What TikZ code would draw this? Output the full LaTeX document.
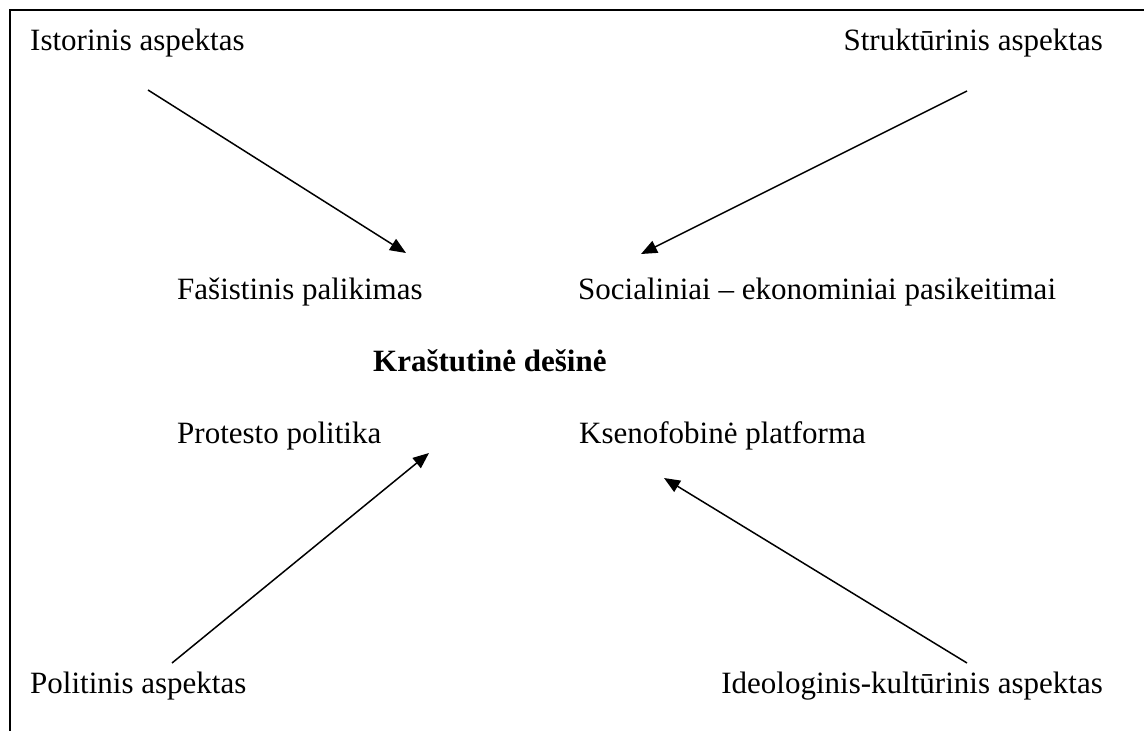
\documentclass[tikz,border=0pt]{standalone}
\usepackage{fontspec}
\setmainfont{Liberation Serif}
\usetikzlibrary{arrows.meta}
\begin{document}
\begin{tikzpicture}[x=1pt,y=-1pt,
  lbl/.style={inner sep=0pt,font=\fontsize{31}{36}\selectfont},
  arr/.style={line width=1.5pt,-{Triangle[length=16pt,width=13pt]}},
  frame/.style={line width=1.6pt}]
\useasboundingbox (0,0) rectangle (1144,731);
\draw[frame] (1144,10) -- (10,10) -- (10,731);
% labels
\node[lbl,anchor=base west] (ist) at (30,50) {Istorinis aspektas};
\node[lbl,anchor=base east] (str) at (1103,50) {Struktūrinis aspektas};
\node[lbl,anchor=base west] (fas) at (177,299) {Fašistinis palikimas};
\node[lbl,anchor=base west] (soc) at (578,299) {Socialiniai – ekonominiai pasikeitimai};
\node[lbl,anchor=base west,font=\fontsize{31}{36}\selectfont\bfseries] (kra) at (373,371) {Kraštutinė dešinė};
\node[lbl,anchor=base west] (pro) at (177,443) {Protesto politika};
\node[lbl,anchor=base west] (kse) at (579,443) {Ksenofobinė platforma};
\node[lbl,anchor=base west] (pol) at (30,693) {Politinis aspektas};
\node[lbl,anchor=base east] (ide) at (1103,693) {Ideologinis-kultūrinis aspektas};
% arrow ends
\coordinate (a1s) at (148,90);  \coordinate (a1e) at (406,253);
\coordinate (a2s) at (967,91);  \coordinate (a2e) at (641,254);
\coordinate (a3s) at (172,663); \coordinate (a3e) at (429,453);
\coordinate (a4s) at (967,663); \coordinate (a4e) at (664,478);
\draw[arr] (a1s) -- (a1e);
\draw[arr] (a2s) -- (a2e);
\draw[arr] (a3s) -- (a3e);
\draw[arr] (a4s) -- (a4e);
\end{tikzpicture}
\end{document}
